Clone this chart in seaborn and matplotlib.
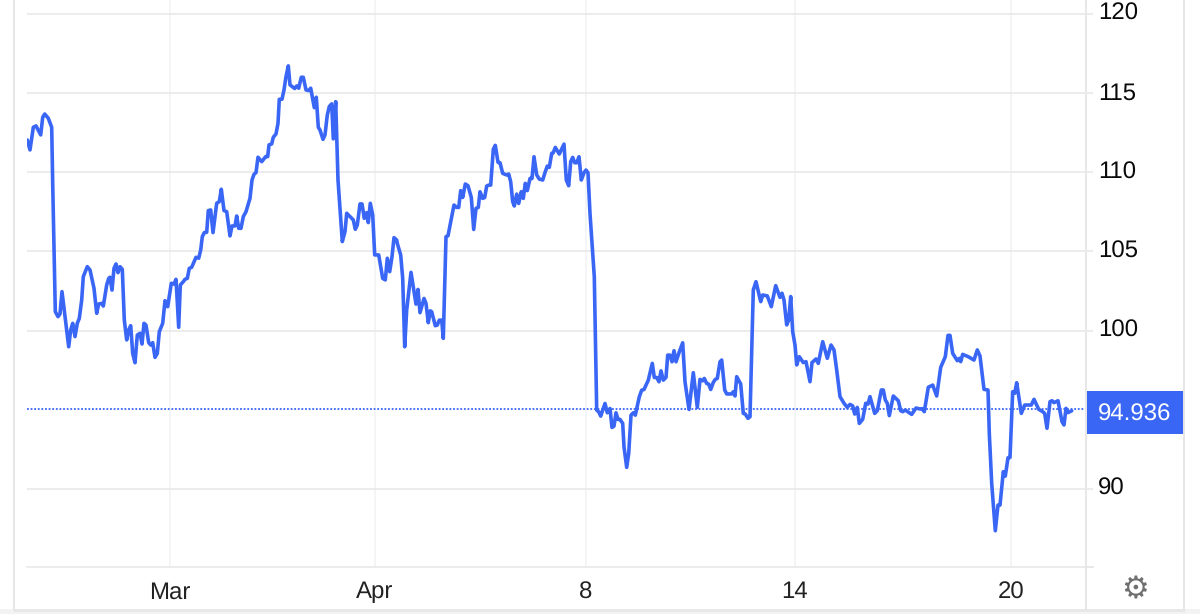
import matplotlib
matplotlib.use('Agg')
import matplotlib.pyplot as plt
from matplotlib.lines import Line2D
from matplotlib.patches import Rectangle
from matplotlib.transforms import ScaledTranslation
import pandas as pd
import seaborn as sns

# time along the chart, with the price read at the same spots
hours = [
    0.3, 3, 6.3, 9, 13.7, 15.7, 17.7, 21.3, 24.7, 25.7,
    28.3, 31, 33, 35, 38, 41.7, 43.7, 45.7, 48, 50.3,
    52.3, 54.7, 56.3, 60.3, 63, 67, 69.7, 71.7, 74.7, 76.3,
    79.7, 81.7, 83, 85, 87, 89, 91, 93, 95.3, 97.3,
    99.7, 101.7, 103.7, 105.7, 108, 110.3, 113, 115, 117, 119,
    121.7, 123.7, 125.7, 128, 130.3, 132.3, 135.7, 138, 140.7, 144.3,
    147, 149, 151.7, 153.3, 156.3, 158, 160.3, 162.3, 164.7, 169,
    171.7, 173.7, 175.3, 177.3, 179.7, 181.3, 183.7, 186, 189.7, 192.3,
    194.3, 197, 199.7, 203, 205, 208, 209.7, 211.7, 214, 216.3,
    219, 223, 225, 227, 229, 231, 234.7, 238.7, 240.7, 242,
    244.7, 246.3, 249, 251, 252.3, 255, 257, 259, 261.3, 263,
    267.7, 269.7, 271.7, 274.3, 276.3, 279, 281.7, 283.7, 287.3, 289.3,
    291.3, 293, 296, 298, 300.3, 302.3, 304.7, 306.3, 308.7, 311,
    315.3, 318, 319.7, 323, 326.3, 328.3, 330.3, 333, 335, 337.3,
    339.7, 341.3, 343.3, 345.7, 347.7, 351.7, 355.7, 358.3, 360.3, 362.7,
    365, 367, 369.7, 370.3, 373.7, 375.7, 377.7, 379.7, 384, 389,
    391, 393, 397, 399, 401.3, 403.3, 404.7, 408.3, 410.3, 412.3,
    414.7, 416.3, 419, 421, 427, 429.7, 431.7, 433.7, 435.7, 438.3,
    441, 444.3, 446.7, 449, 451.3, 453, 455.7, 457.7, 459.7, 461.7,
    463.7, 466.3, 468.3, 471, 473, 475.7, 479.7, 481.7, 483.7, 485.7,
    487.3, 489.7, 491.7, 494.3, 496.3, 498.3, 500.3, 503, 505, 507,
    509.7, 512.3, 515.7, 518.3, 520.3, 522.3, 524.7, 526.3, 528.3, 532.3,
    537, 539.3, 541.7, 543.7, 545.7, 547.7, 549.7, 552, 554.3, 557,
    559, 561, 563, 565, 567.3, 569.7, 571.7, 573.7, 578, 580.3,
    583, 585, 587, 589, 591, 593, 595.7, 597, 599.7, 601.7,
    604, 606.3, 608.3, 612.3, 614.7, 617, 621.3, 625.3, 627.3, 629.7,
    632, 634, 636.3, 639, 640.7, 643, 645, 647, 649, 652.3,
    655.7, 658, 662, 666.3, 670.3, 673, 675.7, 677.3, 679.7, 681.7,
    683.7, 686.3, 688.3, 690.3, 693, 694.7, 697.7, 699.7, 704.7, 706.3,
    708, 709.7, 713.7, 716.3, 718.3, 721, 723, 726.3, 729, 733.7,
    735.7, 740.3, 744.3, 748.7, 753, 755, 757, 759.7, 761.7, 763.7,
    765.7, 768, 769.7, 772.3, 776.3, 779, 783, 785, 789, 791.3,
    795.7, 800.3, 804, 807, 809.7, 813, 817, 820.3, 823, 825.7,
    827.7, 830.3, 832.3, 835.7, 838.7, 841, 843, 847.7, 850.3, 854.3,
    856.3, 858.3, 860.3, 862.3, 866.3, 871.3, 873.7, 875.7, 878.3, 884.7,
    889, 893, 895, 897.3, 901.3, 905.7, 909.7, 913.7, 918.3, 921,
    923, 925.7, 930.3, 932.3, 933.7, 935.7, 941.3, 947, 950.3, 953,
    957, 961, 962.3, 964.7, 968.3, 971, 973, 976.3, 978.3, 981,
    983, 985.7, 987.7, 989.7, 994.3, 997.7, 1004.3, 1007, 1011.7, 1015.7,
    1017.7, 1020, 1023, 1025, 1027, 1031, 1035, 1037, 1039, 1041,
    1044.7,
]
prices = [
    112.04, 111.41, 112.84, 112.93, 112.36, 113.47, 113.68, 113.41, 112.84, 109.30,
    101.20, 100.88, 101.05, 102.46, 100.88, 98.98, 100.04, 100.46, 99.62, 100.46,
    100.77, 101.93, 103.41, 104.04, 103.83, 102.67, 101.09, 101.68, 101.72, 101.55,
    102.88, 103.30, 103.37, 102.56, 103.93, 104.21, 103.66, 104.04, 103.87, 100.67,
    99.41, 100.04, 100.31, 98.56, 97.97, 99.72, 99.83, 99.15, 100.46, 100.35,
    99.24, 99.09, 99.24, 98.31, 98.56, 99.93, 100.46, 101.89, 101.51, 102.99,
    102.94, 103.24, 100.21, 102.88, 103.09, 103.24, 103.30, 103.93, 104.00, 104.63,
    104.57, 105.09, 105.93, 106.19, 106.21, 107.58, 107.62, 106.19, 108.04, 108.15,
    108.93, 107.58, 107.51, 105.98, 106.61, 106.61, 107.24, 106.46, 106.46, 107.20,
    107.51, 108.36, 109.51, 109.87, 109.98, 110.95, 110.67, 110.99, 110.99, 111.73,
    111.79, 112.21, 112.42, 113.09, 114.61, 114.61, 115.20, 116.04, 116.72, 115.52,
    115.29, 115.45, 115.31, 116.00, 116.00, 115.20, 115.16, 115.31, 114.08, 114.74,
    112.84, 112.67, 112.08, 112.36, 113.62, 114.15, 114.32, 112.11, 114.46, 109.51,
    105.62, 106.25, 107.41, 107.20, 106.99, 106.40, 106.67, 108.00, 108.00, 107.09,
    107.45, 106.82, 108.04, 107.30, 104.78, 104.78, 103.30, 103.20, 104.57, 103.72,
    104.67, 105.87, 105.72, 105.51, 104.77, 103.30, 98.98, 101.30, 103.68, 101.67,
    102.60, 101.13, 102.03, 101.72, 100.50, 101.25, 101.19, 100.31, 100.35, 100.66,
    100.66, 99.51, 105.93, 105.99, 107.93, 107.78, 107.78, 108.84, 108.41, 109.26,
    109.15, 108.41, 106.39, 107.72, 107.78, 108.77, 108.35, 108.41, 109.13, 109.19,
    109.19, 111.45, 111.70, 110.63, 110.60, 109.93, 109.83, 109.89, 109.40, 108.14,
    107.87, 108.62, 108.03, 108.77, 108.35, 109.30, 108.84, 109.61, 109.61, 110.98,
    109.83, 109.57, 109.51, 110.04, 110.39, 110.31, 111.19, 111.24, 111.57, 111.15,
    111.78, 109.51, 109.15, 110.67, 110.94, 110.60, 110.60, 110.98, 109.51, 109.97,
    110.14, 109.97, 107.40, 105.51, 103.40, 94.98, 94.87, 94.60, 95.40, 94.81,
    95.08, 93.88, 93.97, 94.81, 94.39, 94.39, 94.14, 92.66, 91.36, 92.24,
    94.66, 94.81, 94.66, 95.82, 96.24, 96.28, 96.87, 97.93, 97.04, 97.04,
    96.77, 97.46, 96.87, 97.04, 98.45, 98.45, 98.03, 98.73, 98.03, 98.66,
    99.23, 96.77, 95.02, 97.34, 95.15, 96.92, 96.83, 96.98, 96.66, 96.62,
    96.28, 96.73, 96.92, 96.98, 98.03, 98.14, 96.25, 96.00, 96.00, 96.14,
    95.87, 97.09, 96.63, 94.77, 94.73, 94.46, 94.56, 102.57, 103.09, 101.83,
    102.25, 102.19, 101.51, 102.84, 102.10, 102.36, 101.93, 100.36, 100.67, 102.15,
    99.93, 99.09, 97.83, 98.35, 97.98, 98.04, 96.77, 97.98, 98.21, 97.93,
    99.30, 98.25, 99.09, 98.78, 97.51, 95.83, 95.41, 95.15, 95.34, 95.24,
    94.73, 95.15, 94.14, 94.40, 95.41, 95.36, 95.83, 94.77, 94.94, 96.25,
    96.25, 95.62, 95.41, 94.63, 95.87, 95.57, 94.94, 94.88, 94.98, 94.71,
    95.11, 95.05, 95.07, 94.88, 96.42, 96.56, 95.87, 97.68, 98.35, 99.70,
    99.70, 98.56, 98.10, 98.25, 98.04, 98.50, 98.35, 98.14, 98.78, 98.40,
    96.29, 96.25, 93.51, 90.35, 87.36, 88.98, 88.98, 91.09, 90.81, 91.97,
    91.99, 96.14, 96.04, 96.71, 94.77, 95.30, 95.30, 95.66, 95.03, 94.88,
    94.77, 93.83, 95.51, 95.57, 95.45, 95.57, 94.25, 94.04, 95.09, 94.82,
    94.936,
]
y_ticks = [90, 100, 105, 110, 115, 120]
x_tick_pos = [143, 348, 559, 768, 984]
x_tick_labels = ['Mar', 'Apr', '8', '14', '20']
last_price = 94.936
dotted_level = 95.03  # where the dotted line sits on the picture's grid

line_blue = '#3a66f6'
grid_h = '#e7e7e7'
grid_v = '#f0f3f5'

sns.set_theme(style='white')
plt.rcParams['font.family'] = ['Liberation Sans', 'DejaVu Sans']
plt.rcParams['text.hinting'] = 'no_hinting'
plt.rcParams['text.hinting_factor'] = 1

W, H = 1200, 614
fig = plt.figure(figsize=(W / 100, H / 100), dpi=100)
# plot area runs x 27..1086, y 0..567 in picture pixels
ax = fig.add_axes([27 / W, 1 - 567 / H, (1086 - 27) / W, 567 / H])

df = pd.DataFrame({'hours': hours, 'price': prices})
sns.lineplot(data=df, x='hours', y='price', estimator=None, sort=False, ax=ax,
             color=line_blue, linewidth=2.6, zorder=5, solid_joinstyle='round')
ax.axhline(dotted_level, color=line_blue, linewidth=1.3, linestyle=(0, (1, 1)), zorder=4)

ax.set_xlim(0, 1059)
ax.set_ylim(85.07, 120.88)
ax.set_xlabel('')
ax.set_ylabel('')

ax.yaxis.tick_right()
ax.set_yticks(y_ticks)
ax.set_yticklabels([str(v) for v in y_ticks], fontsize=17, color='#0a0a0a')
ax.tick_params(axis='y', length=5, width=1.1, color=grid_h, pad=3.5, right=True)
ax.set_xticks(x_tick_pos)
ax.set_xticklabels(x_tick_labels, fontsize=17, color='#222222')
ax.tick_params(axis='x', length=0, pad=10)
ax.grid(axis='y', color=grid_h, linewidth=1.1)
ax.grid(axis='x', color=grid_v, linewidth=1.1)
for side in ['top', 'left', 'right']:
    ax.spines[side].set_visible(False)
ax.spines['bottom'].set_color(grid_h)
ax.spines['bottom'].set_linewidth(1.1)

# the price labels sit a little above their grid lines
lift = ScaledTranslation(0, 2.5 / 100, fig.dpi_scale_trans)
for label in ax.get_yticklabels():
    label.set_transform(label.get_transform() + lift)


def pixel_line(x0, y0, x1, y1, color=grid_h, lw=1.4):
    fig.add_artist(Line2D([x0 / W, x1 / W], [1 - y0 / H, 1 - y1 / H], color=color, linewidth=lw))


# outer frame of the widget
pixel_line(13.5, 0, 13.5, 609)
pixel_line(1086, 0, 1086, 609)
pixel_line(1184, 0, 1184, 609)
pixel_line(1086, 567, 1093, 567)
fig.add_artist(Rectangle((0, 0), 1, 5 / H, transform=fig.transFigure,
                         facecolor='#f3f3f3', edgecolor='none'))
pixel_line(13.5, 610, 1184, 610, lw=2)

# last price tag
fig.add_artist(Rectangle((1087 / W, 1 - 434 / H), 97 / W, 43 / H, transform=fig.transFigure,
                         facecolor=line_blue, edgecolor='none'))
fig.text(1135 / W, 1 - 415 / H, f'{last_price:.3f}', color='white', fontsize=17,
         ha='center', va='center')
fig.text(1135 / W, 1 - 590 / H, '\u2699', color='#6f6f6f', fontsize=22, ha='center', va='center',
         family='DejaVu Sans')

fig.savefig('out.png', dpi=100, facecolor='white')
